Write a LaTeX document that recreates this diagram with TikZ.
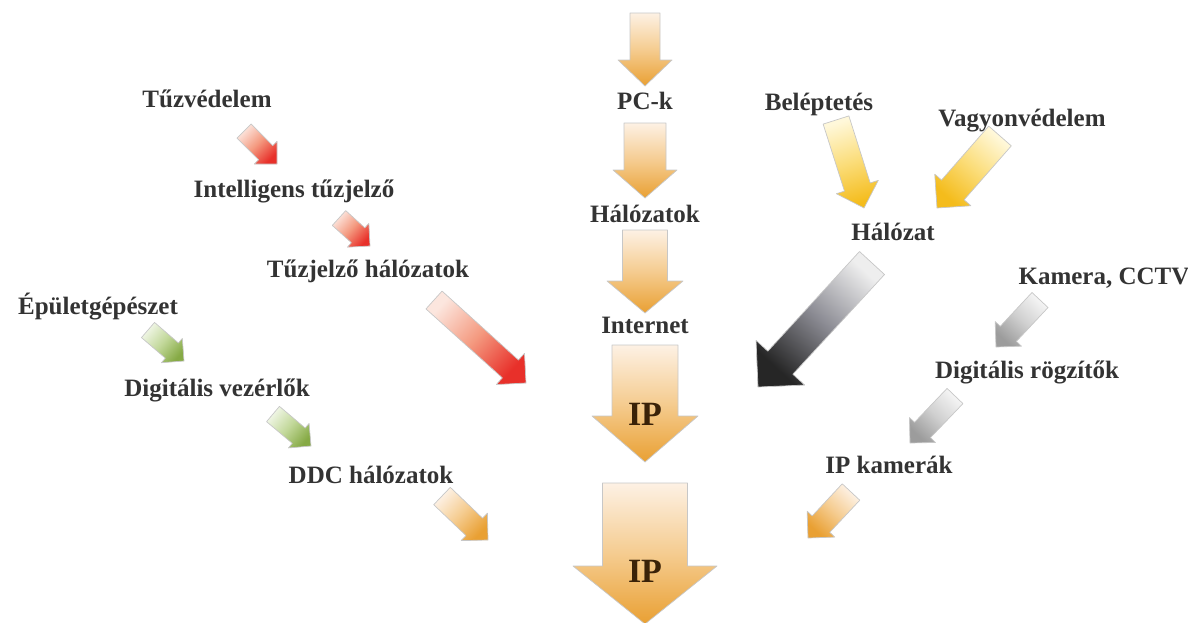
\documentclass[tikz,border=0pt]{standalone}
\usepackage{fontspec}
\setmainfont{Liberation Serif}
\usetikzlibrary{calc}

% label and arrow colours
\definecolor{labeltext}{HTML}{333333}
\definecolor{iptext}{HTML}{3A2208}
\definecolor{orangeT}{HTML}{FDF1E4}
\definecolor{orangeM}{HTML}{F5CC90}
\definecolor{orangeH}{HTML}{E9A033}
\definecolor{redT}{HTML}{FCE6DE}
\definecolor{redM}{HTML}{F49A80}
\definecolor{redH}{HTML}{E8302A}
\definecolor{greenT}{HTML}{F0F6E6}
\definecolor{greenM}{HTML}{C2D89A}
\definecolor{greenH}{HTML}{86AA45}
\definecolor{yellowT}{HTML}{FFF8DA}
\definecolor{yellowM}{HTML}{FBDD7A}
\definecolor{yellowH}{HTML}{F4BC1C}
\definecolor{darkT}{HTML}{EEEEEE}
\definecolor{darkM}{HTML}{8C8C94}
\definecolor{darkH}{HTML}{262626}
\definecolor{greyT}{HTML}{F4F4F4}
\definecolor{greyM}{HTML}{D0D0D0}
\definecolor{greyH}{HTML}{9C9C9C}

\tikzset{
  lbl/.style={font=\bfseries\fontsize{25}{27}\selectfont, text=labeltext, inner sep=0pt, anchor=base},
  iplbl/.style={font=\bfseries\fontsize{34}{36}\selectfont, text=iptext, inner sep=0pt, anchor=base},
  arrowedge/.style={draw=black!22, line width=0.7pt, line join=round},
  orangeflow/.style={arrowedge, top color=orangeT, bottom color=orangeH, middle color=orangeM},
  redflow/.style={arrowedge, top color=redT, bottom color=redH, middle color=redM},
  greenflow/.style={arrowedge, top color=greenT, bottom color=greenH, middle color=greenM},
  yellowflow/.style={arrowedge, top color=yellowT, bottom color=yellowH, middle color=yellowM},
  darkflow/.style={arrowedge, top color=darkT, bottom color=darkH, middle color=darkM},
  greyflow/.style={arrowedge, top color=greyT, bottom color=greyH, middle color=greyM},
}

% block arrow from tail #1 to tip #2: shaft width #3, head width #4,
% head length #5 (all in pt), fill style #6; shading runs from tail to tip
\newcommand{\blockarrow}[6]{%
  \pgfmathanglebetweenpoints{\pgfpointanchor{#1}{center}}{\pgfpointanchor{#2}{center}}%
  \let\arrowdir\pgfmathresult
  \pgfmathsetmacro\arrowshade{\arrowdir+90}%
  \coordinate (hb) at ($(#2)!#5pt!(#1)$);
  \path[#6, shading angle=\arrowshade]
    ($(#1)!#3pt/2!90:(#2)$) -- ($(hb)!#3pt/2!90:(#2)$) -- ($(hb)!#4pt/2!90:(#2)$)
    -- (#2)
    -- ($(hb)!#4pt/2!-90:(#2)$) -- ($(hb)!#3pt/2!-90:(#2)$) -- ($(#1)!#3pt/2!-90:(#2)$)
    -- cycle;
}

\begin{document}
\begin{tikzpicture}[x=1pt, y=1pt]
\useasboundingbox (0,0) rectangle (1188,-622);

% ---- labels ----
\node[lbl] (pc)        at (645,-109) {PC-k};
\node[lbl] (halozatok) at (645,-222) {Hálózatok};
\node[lbl] (internet)  at (645,-333) {Internet};

\node[lbl] (tuzved)    at (207,-107) {Tűzvédelem};
\node[lbl] (intell)    at (294,-197) {Intelligens tűzjelző};
\node[lbl] (tuzhal)    at (368,-277) {Tűzjelző hálózatok};

\node[lbl] (epulet)    at (98,-314)  {Épületgépészet};
\node[lbl] (digvez)    at (217,-396) {Digitális vezérlők};
\node[lbl] (ddc)       at (371,-483) {DDC hálózatok};

\node[lbl] (belep)     at (819,-110) {Beléptetés};
\node[lbl] (vagyon)    at (1022,-126) {Vagyonvédelem};
\node[lbl] (halozat)   at (893,-240) {Hálózat};

\node[lbl] (kamera)    at (1104,-284) {Kamera, CCTV};
\node[lbl] (digrog)    at (1027,-378) {Digitális rögzítők};
\node[lbl] (ipkam)     at (889,-473) {IP kamerák};

% ---- arrow ends ----
\coordinate (c1t) at (645,-13);  \coordinate (c1h) at (645,-86);
\coordinate (c2t) at (645,-123); \coordinate (c2h) at (645,-198);
\coordinate (c3t) at (645,-230); \coordinate (c3h) at (645,-313);
\coordinate (c4t) at (645,-345); \coordinate (c4h) at (645,-462);
\coordinate (c5t) at (645,-483); \coordinate (c5h) at (645,-624);

\coordinate (r1t) at (244,-131); \coordinate (r1h) at (277,-164);
\coordinate (r2t) at (339,-218); \coordinate (r2h) at (370,-246);
\coordinate (r3t) at (434,-300); \coordinate (r3h) at (526,-383);

\coordinate (g1t) at (148,-330); \coordinate (g1h) at (184,-361);
\coordinate (g2t) at (273,-414); \coordinate (g2h) at (311,-446);
\coordinate (o1t) at (442,-496); \coordinate (o1h) at (488,-540);

\coordinate (y1t) at (836,-120); \coordinate (y1h) at (864,-208);
\coordinate (y2t) at (1000,-136); \coordinate (y2h) at (937,-208);
\coordinate (d1t) at (872,-263); \coordinate (d1h) at (758,-387);

\coordinate (k1t) at (1040,-300); \coordinate (k1h) at (996,-347);
\coordinate (k2t) at (955,-396); \coordinate (k2h) at (910,-443);
\coordinate (o2t) at (851,-492); \coordinate (o2h) at (808,-538);

% ---- central column ----
\blockarrow{c1t}{c1h}{30}{54}{26}{orangeflow}
\blockarrow{c2t}{c2h}{42}{64}{28}{orangeflow}
\blockarrow{c3t}{c3h}{45}{76}{32}{orangeflow}
\blockarrow{c4t}{c4h}{66}{106}{46}{orangeflow}
\blockarrow{c5t}{c5h}{85}{144}{58}{orangeflow}

% ---- fire protection ----
\blockarrow{r1t}{r1h}{20}{32}{16}{redflow}
\blockarrow{r2t}{r2h}{20}{32}{16}{redflow}
\blockarrow{r3t}{r3h}{24}{42}{21}{redflow}

% ---- building services ----
\blockarrow{g1t}{g1h}{20}{32}{16}{greenflow}
\blockarrow{g2t}{g2h}{20}{32}{16}{greenflow}
\blockarrow{o1t}{o1h}{24}{38}{19}{orangeflow}

% ---- access control and security ----
\blockarrow{y1t}{y1h}{27}{44}{22}{yellowflow}
\blockarrow{y2t}{y2h}{30}{48}{24}{yellowflow}
\blockarrow{d1t}{d1h}{34}{66}{33}{darkflow}

% ---- video surveillance ----
\blockarrow{k1t}{k1h}{22}{36}{18}{greyflow}
\blockarrow{k2t}{k2h}{22}{36}{18}{greyflow}
\blockarrow{o2t}{o2h}{24}{38}{19}{orangeflow}

% ---- IP labels on the wide arrows ----
\node[iplbl] (ip1) at (645,-425) {IP};
\node[iplbl] (ip2) at (645,-582) {IP};
\end{tikzpicture}
\end{document}
